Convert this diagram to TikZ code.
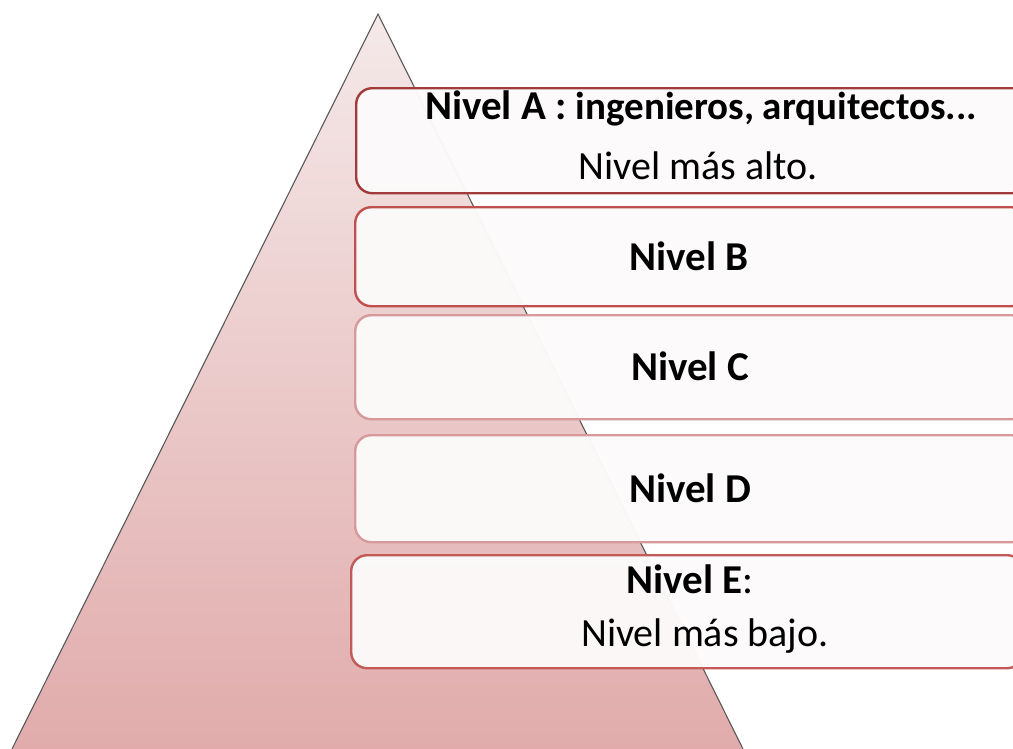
\documentclass[tikz,border=0pt]{standalone}
\usepackage{fontspec}
\setmainfont{Carlito}
\definecolor{pyrtop}{HTML}{F5E9E9}
\definecolor{pyrbot}{HTML}{E1ABAB}
\definecolor{boxfill}{HTML}{FCFAFA}
\definecolor{bordA}{HTML}{A23C3C}
\definecolor{bordB}{HTML}{C0504D}
\definecolor{bordC}{HTML}{D69A9A}
\definecolor{bordE}{HTML}{C25A57}
\begin{document}
\begin{tikzpicture}[x=1pt,y=-1pt,
  levelbox/.style={rectangle, rounded corners=16pt, fill=boxfill, fill opacity=0.97,
    line width=2.4pt, minimum width=672pt, anchor=north west, inner sep=0pt},
  big/.style={font=\bfseries\fontsize{41}{48}\selectfont, text=black, inner sep=0pt},
  reg/.style={font=\fontsize{40}{48}\selectfont, text=black, inner sep=0pt},
  edge/.style={draw=black!65, line width=1.1pt}]
\useasboundingbox (0,0) rectangle (1013,748);
\clip (0,0) rectangle (1013,748);
\fill[white] (0,0) rectangle (1013,748);
\coordinate (apex) at (378,14);
\coordinate (bl) at (12,749);
\coordinate (br) at (743,749);
\shade[top color=pyrtop, bottom color=pyrbot] (apex) -- (br) -- (bl) -- cycle;
\draw[edge] (bl) -- (apex) -- (br);
\node[levelbox, draw=bordA, minimum height=105pt] (boxA) at (355,87) {};
\node[levelbox, draw=bordB, minimum height=99pt] (boxB) at (354,206) {};
\node[levelbox, draw=bordC, minimum height=104pt] (boxC) at (354,314) {};
\node[levelbox, draw=bordC, minimum height=107pt] (boxD) at (354,434) {};
\node[levelbox, draw=bordE, minimum height=113pt] (boxE) at (350,554) {};
\node[big] (tA) at (701,108) {Nivel A : {\fontsize{39}{46}\selectfont ingenieros, arquitectos...}};
\node[reg] (tA2) at (698,166) {Nivel más alto.};
\node[big] (tB) at (689,256) {Nivel B};
\node[big] (tC) at (690,366) {Nivel C};
\node[big] (tD) at (690,488) {Nivel D};
\node[big] (tE) at (690,579) {Nivel E\mdseries:};
\node[reg] (tE2) at (705,636) {Nivel más bajo.};
\end{tikzpicture}
\end{document}
